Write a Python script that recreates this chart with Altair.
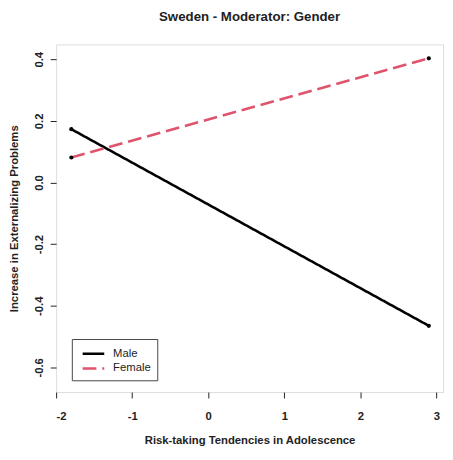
import altair as alt
import pandas as pd

groups = ["Male", "Male", "Female", "Female"]
x_vals = [-1.8, 2.9, -1.8, 2.9]
y_vals = [0.173, -0.465, 0.081, 0.403]

x_ticks = [-2, -1, 0, 1, 2, 3]
y_ticks = [-0.6, -0.4, -0.2, 0.0, 0.2, 0.4]

df = pd.DataFrame({"group": groups, "x": x_vals, "y": y_vals})

FONT = "Liberation Sans"

xs = alt.Scale(domain=[-2.0, 3.087], nice=False, zero=False)
ys = alt.Scale(domain=[-0.68, 0.448], nice=False, zero=False)

xaxis = alt.Axis(values=x_ticks, grid=False, domain=False, tickSize=6, tickColor="#222",
                 labelPadding=13, labelFontSize=11.5, labelFontWeight="bold", labelColor="#222",
                 labelFont=FONT,
                 labelExpr="datum.value < 0 ? '-' + format(-datum.value, 'd') : format(datum.value, 'd')",
                 title="Risk-taking Tendencies in Adolescence", titleFont=FONT,
                 titleFontSize=11.5, titleFontWeight="bold", titleColor="#222", titlePadding=13)
yaxis = alt.Axis(values=y_ticks, grid=False, domain=False, tickSize=6, tickColor="#222",
                 labelPadding=6, labelFontSize=11.5, labelFontWeight="bold", labelColor="#222",
                 labelFont=FONT, labelAngle=270,
                 labelExpr="datum.value < 0 ? '-' + format(-datum.value, '.1f') : format(datum.value, '.1f')",
                 title="Increase in Externalizing Problems", titleFont=FONT,
                 titleFontSize=11.5, titleFontWeight="bold", titleColor="#222", titlePadding=14)

lines = alt.Chart(df).mark_line(strokeWidth=2.6).encode(
    x=alt.X("x:Q", scale=xs, axis=xaxis),
    y=alt.Y("y:Q", scale=ys, axis=yaxis),
    color=alt.Color("group:N", scale=alt.Scale(domain=["Male", "Female"], range=["#000000", "#DF536B"]),
                    legend=alt.Legend(title=None, orient="none", legendX=16, legendY=300,
                                      strokeColor="#444", padding=6, labelFont=FONT,
                                      labelFontSize=11.5, labelColor="#222",
                                      symbolType="M-1.5,0L1.5,0", symbolOffset=7,
                                      symbolStrokeWidth=2.6, symbolSize=215, rowPadding=0,
                                      labelOffset=11, fillColor="white")),
    strokeDash=alt.StrokeDash("group:N", scale=alt.Scale(domain=["Male", "Female"], range=[[1, 0], [14, 6]]),
                              legend=None),
)

points = alt.Chart(df).mark_circle(size=18, color="black", opacity=1).encode(
    x=alt.X("x:Q", scale=xs),
    y=alt.Y("y:Q", scale=ys),
)

chart = (lines + points).properties(
    width=394, height=354,
    title=alt.TitleParams("Sweden - Moderator: Gender", font=FONT, fontSize=13.5, fontWeight="bold",
                          color="#222", anchor="middle", offset=21, frame="group"),
    autosize=alt.AutoSizeParams(type="none"),
    padding={"left": 49, "top": 33, "right": 2, "bottom": 60},
).configure_view(stroke="#444", strokeWidth=1.2).configure(background="white")

chart.save("out.html", embed_options={"renderer": "svg", "actions": False})
